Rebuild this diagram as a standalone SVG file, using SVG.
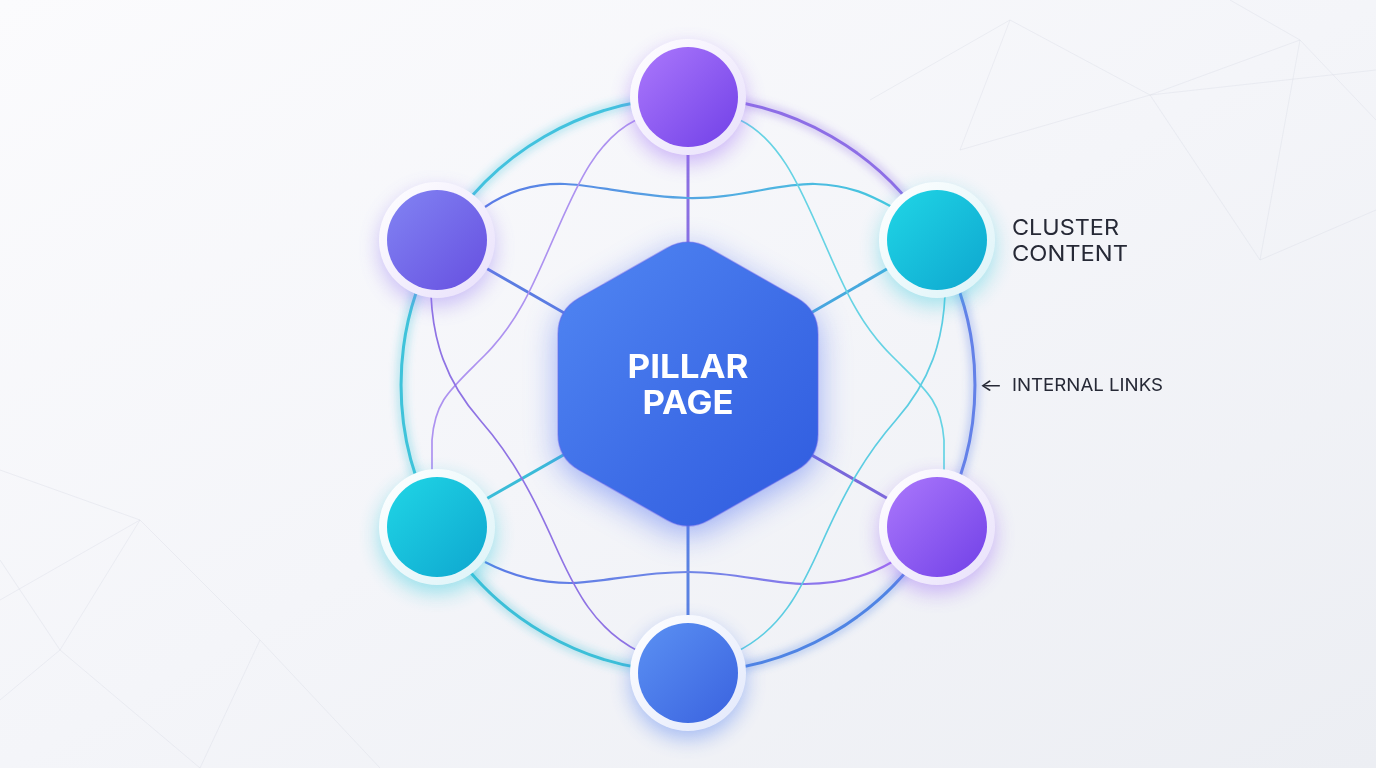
<svg xmlns="http://www.w3.org/2000/svg" width="1376" height="768" viewBox="0 0 1376 768">
  <defs>
    <linearGradient id="bg" x1="0" y1="0" x2="1" y2="1">
      <stop offset="0" stop-color="#fbfbfd"/>
      <stop offset="0.5" stop-color="#f4f5f9"/>
      <stop offset="1" stop-color="#eceef3"/>
    </linearGradient>
    <linearGradient id="gP" x1="0" y1="0" x2="1" y2="1">
      <stop offset="0" stop-color="#ab78fc"/>
      <stop offset="1" stop-color="#7140e7"/>
    </linearGradient>
    <linearGradient id="gI" x1="0" y1="0" x2="1" y2="1">
      <stop offset="0" stop-color="#8284f3"/>
      <stop offset="1" stop-color="#664fe0"/>
    </linearGradient>
    <linearGradient id="gC" x1="0" y1="0" x2="1" y2="1">
      <stop offset="0" stop-color="#20d6e6"/>
      <stop offset="1" stop-color="#0ea6cf"/>
    </linearGradient>
    <linearGradient id="gB" x1="0" y1="0" x2="1" y2="1">
      <stop offset="0" stop-color="#5b91f3"/>
      <stop offset="1" stop-color="#3a62df"/>
    </linearGradient>
    <linearGradient id="ringP" x1="0" y1="0" x2="1" y2="1">
      <stop offset="0" stop-color="#ffffff"/>
      <stop offset="1" stop-color="#e8e0fb"/>
    </linearGradient>
    <linearGradient id="ringC" x1="0" y1="0" x2="1" y2="1">
      <stop offset="0" stop-color="#ffffff"/>
      <stop offset="1" stop-color="#dcf3f8"/>
    </linearGradient>
    <linearGradient id="ringB" x1="0" y1="0" x2="1" y2="1">
      <stop offset="0" stop-color="#ffffff"/>
      <stop offset="1" stop-color="#e2e8fb"/>
    </linearGradient>
    <linearGradient id="hexFill" x1="0" y1="0" x2="1" y2="1">
      <stop offset="0" stop-color="#5187f3"/>
      <stop offset="0.6" stop-color="#3c6be6"/>
      <stop offset="1" stop-color="#2f5bdf"/>
    </linearGradient>
    <linearGradient id="waveTop" gradientUnits="userSpaceOnUse" x1="485" y1="0" x2="892" y2="0">
      <stop offset="0" stop-color="#5a7be6"/>
      <stop offset="0.5" stop-color="#54a6e2"/>
      <stop offset="1" stop-color="#46c8df"/>
    </linearGradient>
    <linearGradient id="waveBot" gradientUnits="userSpaceOnUse" x1="485" y1="0" x2="892" y2="0">
      <stop offset="0" stop-color="#5a7be6"/>
      <stop offset="0.5" stop-color="#6f86e6"/>
      <stop offset="1" stop-color="#9c6cf0"/>
    </linearGradient>
    <filter id="blur10" x="-50%" y="-50%" width="200%" height="200%">
      <feGaussianBlur stdDeviation="10"/>
    </filter>
    <filter id="blur16" x="-50%" y="-50%" width="200%" height="200%">
      <feGaussianBlur stdDeviation="16"/>
    </filter>
    <filter id="blur3" x="-20%" y="-20%" width="140%" height="140%">
      <feGaussianBlur stdDeviation="3.5"/>
    </filter>
  </defs>
  <style>
    .ring { fill: none; stroke-width: 3; stroke-linecap: round; }
    .ringglow { fill: none; stroke-width: 11; opacity: 0.28; }
    .spoke { stroke-width: 3; stroke-linecap: round; }
    .wave { fill: none; stroke-width: 2.2; }
    .curve { fill: none; stroke-width: 1.7; }
    .bgline { stroke: #d9dde6; stroke-width: 1; opacity: 0.4; fill: none; }
    .pillar { font-family: Inter, "Open Sans", "Liberation Sans", sans-serif; font-weight: 700; font-size: 32px; fill: #ffffff; }
    .label { font-family: Inter, Lato, "Liberation Sans", sans-serif; font-weight: 400; fill: #262936; }
  </style>

  <rect x="0" y="0" width="1376" height="768" fill="url(#bg)"/>

  <g id="background-lines">
    <path class="bgline" d="M870,100 L1010,20 L1150,95 L1300,40 L1376,120 M960,150 L1150,95 L1260,260 L1376,210 M1150,95 L1376,70 M1010,20 L960,150 M1300,40 L1260,260 M1230,0 L1300,40"/>
    <path class="bgline" d="M0,470 L140,520 L60,650 L0,560 M140,520 L260,640 L200,768 M60,650 L200,768 M0,700 L60,650 M140,520 L0,600 M260,640 L380,768"/>
  </g>

  <g id="connectors">
    <g filter="url(#blur3)">
      <path class="ringglow" stroke="#3fc6de" d="M439.5,241.5 A287,287 0 0 1 688,98"/>
      <path class="ringglow" stroke="#8e6ee6" d="M688,98 A287,287 0 0 1 936.5,241.5"/>
      <path class="ringglow" stroke="#6080e8" d="M936.5,241.5 A287,287 0 0 1 936.5,528.5"/>
      <path class="ringglow" stroke="#4f84e6" d="M936.5,528.5 A287,287 0 0 1 688,672"/>
      <path class="ringglow" stroke="#3dc0d8" d="M688,672 A287,287 0 0 1 439.5,528.5"/>
      <path class="ringglow" stroke="#3fc4dc" d="M439.5,528.5 A287,287 0 0 1 439.5,241.5"/>
    </g>
    <path class="ring" stroke="#42c2de" d="M439.5,241.5 A287,287 0 0 1 688,98"/>
    <path class="ring" stroke="#8d6ee6" d="M688,98 A287,287 0 0 1 936.5,241.5"/>
    <path class="ring" stroke="#6381e8" d="M936.5,241.5 A287,287 0 0 1 936.5,528.5"/>
    <path class="ring" stroke="#4f84e4" d="M936.5,528.5 A287,287 0 0 1 688,672"/>
    <path class="ring" stroke="#3cbfd8" d="M688,672 A287,287 0 0 1 439.5,528.5"/>
    <path class="ring" stroke="#3fc3da" d="M439.5,528.5 A287,287 0 0 1 439.5,241.5"/>

    <line class="spoke" stroke="#8b70e2" x1="688" y1="97" x2="688" y2="384"/>
    <line class="spoke" stroke="#5b7ce2" x1="437" y1="240" x2="688" y2="384"/>
    <line class="spoke" stroke="#47a9de" x1="937" y1="240" x2="688" y2="384"/>
    <line class="spoke" stroke="#3bbcd8" x1="437" y1="527" x2="688" y2="384"/>
    <line class="spoke" stroke="#7a68da" x1="937" y1="527" x2="688" y2="384"/>
    <line class="spoke" stroke="#5a82e2" x1="688" y1="673" x2="688" y2="384"/>

    <path class="wave" stroke="url(#waveTop)" d="M485,207 C510,190 535,183 565,184 S640,197 688,198 S780,183 815,184 S870,195 892,207"/>
    <path class="wave" stroke="url(#waveBot)" d="M485,562 C510,575 540,583 570,583 S640,572 688,572 S770,584 805,584 S870,575 892,562"/>

    <path class="curve" stroke="#ad92f0" d="M636,120 C595,140 575,190 555,235 S520,320 485,355 S435,400 432,440 L432,470"/>
    <path class="curve" stroke="#8f73e4" d="M431,295 C433,340 445,380 480,420 S535,500 555,545 S595,630 640,652"/>
    <path class="curve" stroke="#66d3e4" d="M740,120 C781,140 801,190 821,235 S856,320 891,355 S941,400 944,440 L944,470"/>
    <path class="curve" stroke="#5ccde2" d="M945,295 C943,340 931,380 896,420 S841,500 821,545 S781,630 736,652"/>
  </g>

  <g id="pillar-page">
    <path d="M667.1,247.9 Q688,236 708.9,247.9 L797.1,298.1 Q818,310 818,334 L818,434 Q818,458 797.1,469.9 L708.9,520.1 Q688,532 667.1,520.1 L578.9,469.9 Q558,458 558,434 L558,334 Q558,310 578.9,298.1 Z" fill="#4f6ff2" opacity="0.55" filter="url(#blur16)" transform="translate(0,8)"/>
    <path d="M667.1,247.9 Q688,236 708.9,247.9 L797.1,298.1 Q818,310 818,334 L818,434 Q818,458 797.1,469.9 L708.9,520.1 Q688,532 667.1,520.1 L578.9,469.9 Q558,458 558,434 L558,334 Q558,310 578.9,298.1 Z" fill="url(#hexFill)" stroke="#6a66ea" stroke-opacity="0.45" stroke-width="1.5"/>
    <text class="pillar" x="688" y="378" text-anchor="middle" textLength="121" lengthAdjust="spacingAndGlyphs">PILLAR</text>
    <text class="pillar" x="688" y="414" text-anchor="middle" textLength="91" lengthAdjust="spacingAndGlyphs">PAGE</text>
  </g>

  <g id="node-top" transform="translate(688,97)">
    <circle r="58" cy="8" fill="#9a68f5" opacity="0.45" filter="url(#blur10)"/>
    <circle r="58" fill="url(#ringP)"/>
    <circle r="50" fill="url(#gP)"/>
  </g>
  <g id="node-top-left" transform="translate(437,240)">
    <circle r="58" cy="8" fill="#8a6cf2" opacity="0.4" filter="url(#blur10)"/>
    <circle r="58" fill="url(#ringP)"/>
    <circle r="50" fill="url(#gI)"/>
  </g>
  <g id="node-top-right" transform="translate(937,240)">
    <circle r="58" cy="8" fill="#26c8dc" opacity="0.4" filter="url(#blur10)"/>
    <circle r="58" fill="url(#ringC)"/>
    <circle r="50" fill="url(#gC)"/>
  </g>
  <g id="node-bottom-left" transform="translate(437,527)">
    <circle r="58" cy="8" fill="#26c8dc" opacity="0.45" filter="url(#blur10)"/>
    <circle r="58" fill="url(#ringC)"/>
    <circle r="50" fill="url(#gC)"/>
  </g>
  <g id="node-bottom-right" transform="translate(937,527)">
    <circle r="58" cy="8" fill="#9a68f5" opacity="0.45" filter="url(#blur10)"/>
    <circle r="58" fill="url(#ringP)"/>
    <circle r="50" fill="url(#gP)"/>
  </g>
  <g id="node-bottom" transform="translate(688,673)">
    <circle r="58" cy="8" fill="#4d7cf0" opacity="0.45" filter="url(#blur10)"/>
    <circle r="58" fill="url(#ringB)"/>
    <circle r="50" fill="url(#gB)"/>
  </g>

  <g id="label-cluster">
    <text class="label" font-size="22" x="1012" y="235" textLength="107" lengthAdjust="spacingAndGlyphs">CLUSTER</text>
    <text class="label" font-size="22" x="1012" y="261" textLength="116" lengthAdjust="spacingAndGlyphs">CONTENT</text>
  </g>
  <g id="label-links">
    <text class="label" font-size="17" y="391"><tspan x="979" textLength="24" lengthAdjust="spacingAndGlyphs">←</tspan><tspan x="1012" textLength="151" lengthAdjust="spacingAndGlyphs">INTERNAL LINKS</tspan></text>
  </g>
</svg>
